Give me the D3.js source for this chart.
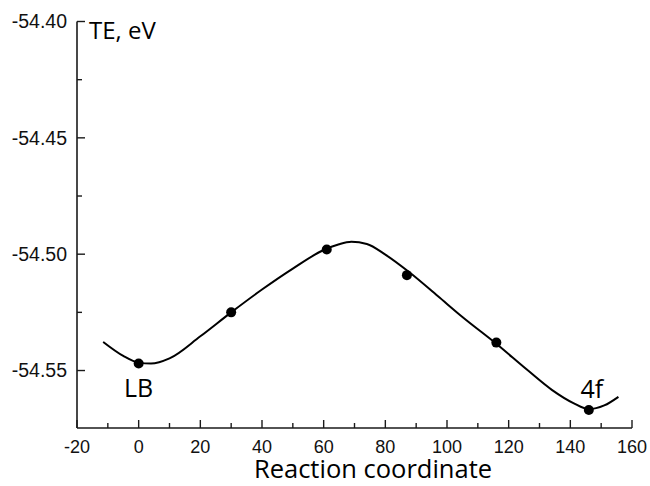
<!DOCTYPE html>
<html><head><meta charset="utf-8">
<script src="https://cdn.jsdelivr.net/npm/d3@7"></script>
<style>body{margin:0;background:#fff}</style>
</head><body>
<svg id="chart" width="650" height="486"></svg>
<script>
// Data points (reaction coordinate, total energy eV)
const pointX = [0, 30, 61, 87, 116, 146];
const pointY = [-54.547, -54.525, -54.498, -54.509, -54.538, -54.567];
// Fitted curve
const curveX = [-11.5, -5, 0, 4, 10, 20, 30, 40, 50, 60, 65, 69, 74, 80, 88, 97, 105, 116, 126, 134, 141, 146, 151, 155.6];
const curveY = [-54.5377, -54.5437, -54.5466, -54.5470, -54.5448, -54.5353, -54.5250, -54.5152, -54.5062, -54.4982, -54.4957, -54.4947, -54.4956, -54.5002, -54.5080, -54.5180, -54.5270, -54.5385, -54.5497, -54.5583, -54.5640, -54.5666, -54.5650, -54.5613];
const xTicks = [-20, 0, 20, 40, 60, 80, 100, 120, 140, 160];
const yTicks = [-54.40, -54.45, -54.50, -54.55];
const labels = [{t: "LB", x: 0}, {t: "4f", x: 146}];

const svg = d3.select("#chart");
const x = d3.scaleLinear().domain([-20, 160]).range([77, 632]);
const y = d3.scaleLinear().domain([-54.5747, -54.40]).range([428, 21.5]);

const ax = "#1a1a1a";
// x axis
const xMinor = d3.range(-10, 160, 20);
const gx = svg.append("g").attr("transform", `translate(0,${y.range()[0]})`);
gx.append("line").attr("x1", x(-20)).attr("x2", x(160)).attr("stroke", ax).attr("stroke-width", 1.6);
gx.selectAll(".maj").data(xTicks).join("line").attr("x1", d => x(d)).attr("x2", d => x(d)).attr("y1", 0).attr("y2", -8).attr("stroke", ax).attr("stroke-width", 1.4);
gx.selectAll(".min").data(xMinor).join("line").attr("x1", d => x(d)).attr("x2", d => x(d)).attr("y1", 0).attr("y2", -5).attr("stroke", ax).attr("stroke-width", 1.4);
gx.selectAll("text").data(xTicks).join("text").attr("x", d => x(d)).attr("y", 25).attr("text-anchor", "middle")
  .attr("font-family", "Liberation Sans, Arial, sans-serif").attr("font-size", 18).attr("fill", "#111").text(d => d);

// y axis
const yMinor = [-54.425, -54.475, -54.525];
const gy = svg.append("g").attr("transform", `translate(${x(-20)},0)`);
gy.append("line").attr("y1", y(-54.40)).attr("y2", y.range()[0]).attr("stroke", ax).attr("stroke-width", 1.6);
gy.selectAll(".maj").data(yTicks).join("line").attr("y1", d => y(d)).attr("y2", d => y(d)).attr("x1", 0).attr("x2", 8).attr("stroke", ax).attr("stroke-width", 1.4);
gy.selectAll(".min").data(yMinor).join("line").attr("y1", d => y(d)).attr("y2", d => y(d)).attr("x1", 0).attr("x2", 5).attr("stroke", ax).attr("stroke-width", 1.4);
gy.selectAll("text").data(yTicks).join("text").attr("x", -10).attr("y", d => y(d)).attr("dy", "0.35em").attr("text-anchor", "end")
  .attr("font-family", "Liberation Sans, Arial, sans-serif").attr("font-size", 19.5).attr("fill", "#111").text(d => d.toFixed(2));

// curve
const line = d3.line().x(d => x(d[0])).y(d => y(d[1])).curve(d3.curveMonotoneX);
svg.append("path").datum(curveX.map((v, i) => [v, curveY[i]])).attr("d", line)
  .attr("fill", "none").attr("stroke", "#000").attr("stroke-width", 2);

// points
svg.selectAll(".pt").data(pointX.map((v, i) => [v, pointY[i]])).join("circle")
  .attr("cx", d => x(d[0])).attr("cy", d => y(d[1])).attr("r", 5).attr("fill", "#000");

// annotations
const lf = "Open Sans, Noto Sans, sans-serif";
svg.append("text").attr("x", 89).attr("y", 39).attr("font-family", lf).attr("font-size", 24).attr("fill", "#000").text("TE, eV");
svg.append("text").attr("x", 373).attr("y", 478).attr("text-anchor", "middle").attr("font-family", lf).attr("font-size", 25.5).attr("fill", "#000").text("Reaction coordinate");
svg.append("text").attr("x", x(labels[0].x)).attr("y", 397).attr("text-anchor", "middle").attr("font-family", lf).attr("font-size", 25).attr("fill", "#000").text(labels[0].t);
svg.append("text").attr("x", x(labels[1].x)+3).attr("y", 398).attr("text-anchor", "middle").attr("font-family", lf).attr("font-size", 25).attr("fill", "#000").text(labels[1].t);
</script>
</body></html>
